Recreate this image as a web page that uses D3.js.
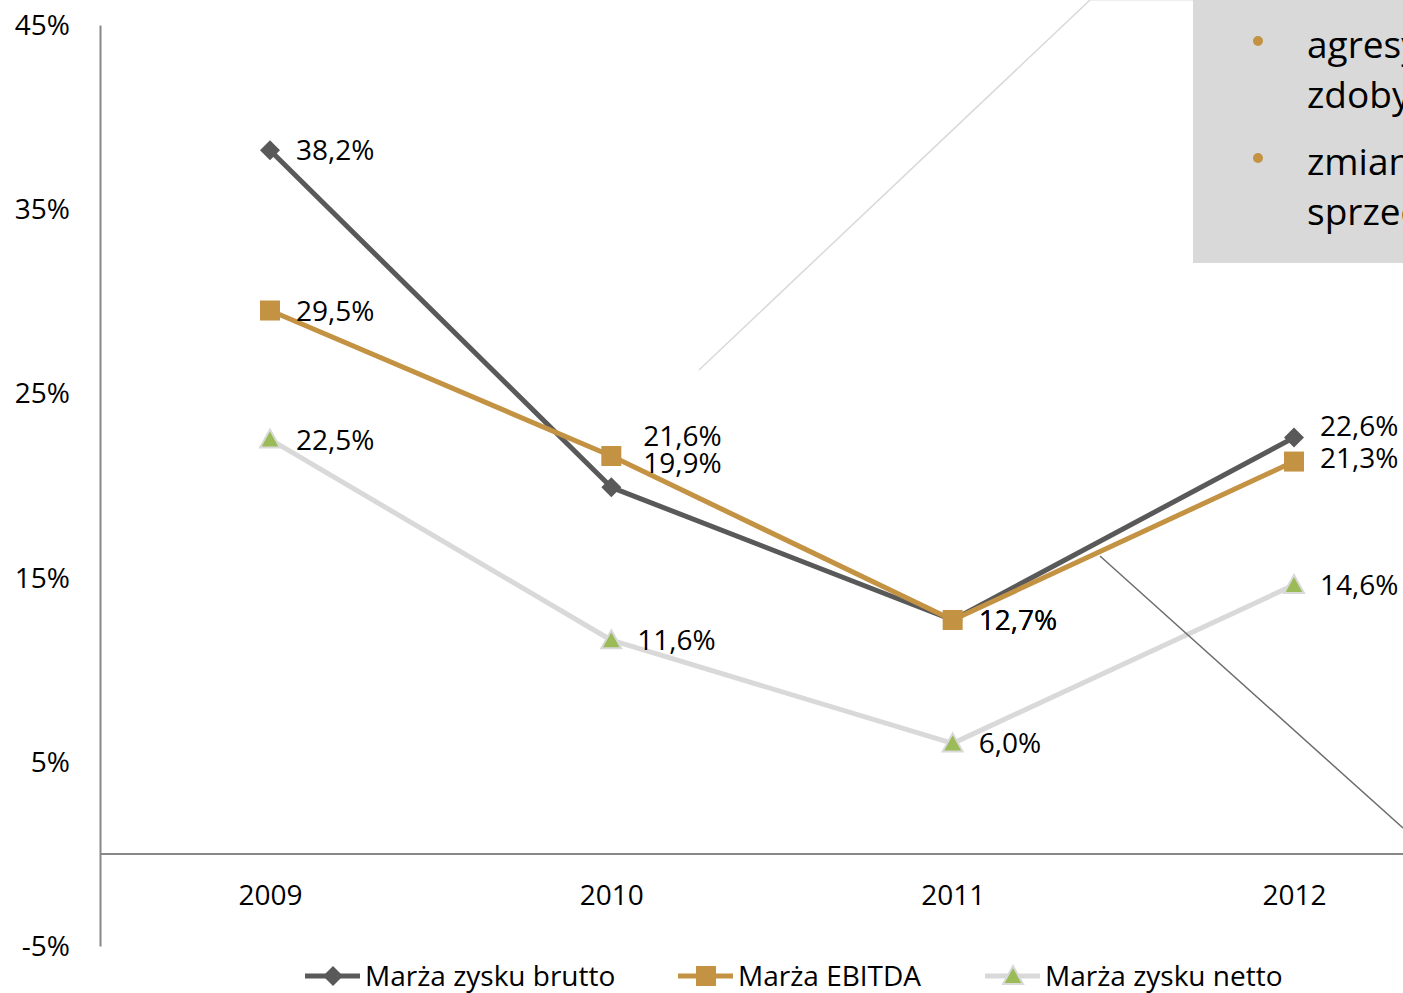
<!DOCTYPE html>
<html>
<head>
<meta charset="utf-8" />
<script src="https://d3js.org/d3.v7.min.js"></script>
<style>
  body { margin: 0; background: #fff; }
  svg text { font-family: "Open Sans", sans-serif; fill: #000; }
</style>
</head>
<body>
<div id="chart"></div>
<script>
// data
var years = ["2009", "2010", "2011", "2012"];
var brutto = [38.2, 19.9, 12.7, 22.6];
var ebitda = [29.5, 21.6, 12.7, 21.3];
var netto = [22.5, 11.6, 6.0, 14.6];
var seriesNames = ["Marża zysku brutto", "Marża EBITDA", "Marża zysku netto"];
var yTicks = [-5, 5, 15, 25, 35, 45];
var bullets = [["agresywna polityka cenowa", "zdobycia udziału w rynku"],
               ["zmiana struktury", "sprzedaży produktów"]];

// label nudges (layout only)
var labelDy = [[0, -24, 0, -12], [0, -20, 0, -4], [0, 0, 0, 0]];

var W = 1403, H = 993;
var margin = {left: 100, top: 25, bottom: 47};
var fs = 28;

var svg = d3.select("#chart").append("svg")
    .attr("width", W).attr("height", H);

var x = d3.scalePoint()
    .domain(years)
    .range([270, 1294]);

var y = d3.scaleLinear()
    .domain([-5, 45])
    .range([H - margin.bottom, margin.top]);

// decorative lines behind
svg.append("line")
    .attr("x1", 699).attr("y1", 370).attr("x2", 1090).attr("y2", 0)
    .attr("stroke", "#d9d9d9").attr("stroke-width", 1.5);
svg.append("line")
    .attr("x1", 1090).attr("y1", 0.5).attr("x2", 1193).attr("y2", 0.5)
    .attr("stroke", "#eeeeee").attr("stroke-width", 1);

// y axis
var yAxis = svg.append("g")
    .attr("transform", "translate(" + margin.left + ",0)")
    .call(d3.axisLeft(y).tickValues(yTicks).tickSize(0).tickPadding(30)
        .tickFormat(function(d) { return d + "%"; }));
yAxis.select(".domain").attr("stroke", "#888").attr("stroke-width", 2);
yAxis.selectAll("text").attr("font-size", fs).attr("font-family", "Open Sans")
    .attr("dy", "0.34em");

// x axis at 0
var xAxis = svg.append("g")
    .attr("transform", "translate(0," + y(0) + ")")
    .call(d3.axisBottom(x).tickSize(0).tickPadding(31));
xAxis.select(".domain").attr("d", "M" + margin.left + ",0H" + W)
    .attr("stroke", "#888").attr("stroke-width", 2);
xAxis.selectAll("text").attr("font-size", fs).attr("font-family", "Open Sans");

// series
var series = [
  {name: seriesNames[0], values: brutto, color: "#595959", marker: "diamond"},
  {name: seriesNames[1], values: ebitda, color: "#c39243", marker: "square"},
  {name: seriesNames[2], values: netto, color: "#d9d9d9", marker: "triangle"}
];

function markerPath(type) {
  if (type == "diamond") return "M0,-10L10,0L0,10L-10,0Z";
  if (type == "square") return "M-10,-10H10V10H-10Z";
  return "M0,-10L10,8H-10Z";
}
function drawMarker(g, type, color) {
  if (type == "triangle") {
    g.append("path").attr("d", markerPath(type))
      .attr("fill", "#9bbb59").attr("stroke", "#d9d9d9").attr("stroke-width", 2);
  } else {
    g.append("path").attr("d", markerPath(type)).attr("fill", color);
  }
}

var line = d3.line()
    .x(function(d, i) { return x(years[i]); })
    .y(function(d) { return y(d); });

// netto at the back, ebitda on top
[2, 0, 1].forEach(function(si) {
  var s = series[si];
  var g = svg.append("g");
  g.append("path")
    .datum(s.values)
    .attr("d", line)
    .attr("fill", "none")
    .attr("stroke", s.color)
    .attr("stroke-width", 5)
    .attr("stroke-linejoin", "round");
  s.values.forEach(function(v, i) {
    var m = g.append("g").attr("transform", "translate(" + x(years[i]) + "," + y(v) + ")");
    drawMarker(m, s.marker, s.color);
  });
});

// labels
[2, 0, 1].forEach(function(si) {
  var s = series[si];
  s.values.forEach(function(v, i) {
    svg.append("text")
      .attr("x", x(years[i]) + (i == 1 && si < 2 ? 32 : 26))
      .attr("y", y(v) + labelDy[si][i])
      .attr("dy", "0.36em")
      .attr("font-size", fs)
      .text(d3.format(".1f")(v).replace(".", ",") + "%");
  });
});

// legend
var legendX = [305, 678, 985];
series.forEach(function(s, i) {
  var g = svg.append("g").attr("transform", "translate(" + legendX[i] + ",976)");
  g.append("line").attr("x1", 0).attr("x2", 55)
    .attr("stroke", s.color).attr("stroke-width", 5);
  var m = g.append("g").attr("transform", "translate(28,0)");
  drawMarker(m, s.marker, s.color);
  g.append("text").attr("x", 60).attr("dy", "0.36em")
    .attr("font-size", fs).text(s.name);
});

// grey note box on the right
var box = svg.append("g");
svg.append("clipPath").attr("id", "boxclip")
  .append("rect").attr("x", 1193).attr("y", 0).attr("width", 210).attr("height", 263);
box.append("rect").attr("x", 1193).attr("y", 0).attr("width", 210).attr("height", 263)
  .attr("fill", "#d9d9d9");
var bt = box.append("g").attr("clip-path", "url(#boxclip)");
bullets.forEach(function(b, i) {
  var top = 58 + i * 117;
  bt.append("circle").attr("cx", 1258).attr("cy", top - 17).attr("r", 5)
    .attr("fill", "#c39243");
  b.forEach(function(t, j) {
    bt.append("text").attr("x", 1307).attr("y", top + j * 50)
      .attr("font-size", 37).text(t);
  });
});

// pointer line
svg.append("line")
    .attr("x1", 1100).attr("y1", 556).attr("x2", 1403).attr("y2", 828)
    .attr("stroke", "#6d6d6d").attr("stroke-width", 1.5);
</script>
</body>
</html>
